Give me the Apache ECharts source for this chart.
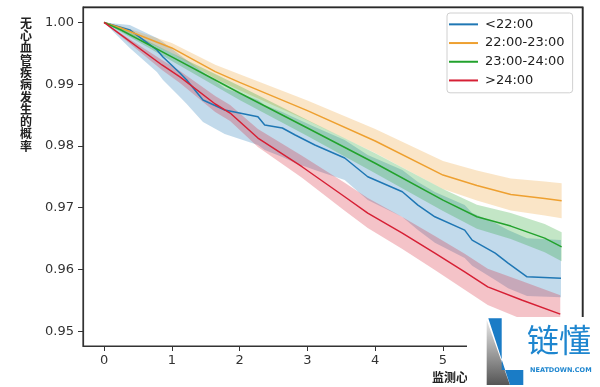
<!DOCTYPE html>
<html><head><meta charset="utf-8">
<script src="https://cdn.jsdelivr.net/npm/echarts@6/dist/echarts.min.js"></script>
<style>html,body{margin:0;padding:0;background:#fff}#c{width:600px;height:387px}</style>
</head><body><div id="c"></div>
<script>
const seriesNames = ['<22:00', '22:00-23:00', '23:00-24:00', '>24:00'];
const seriesColors = ['#1f77b4', '#eea030', '#22a22c', '#d62035'];
const xTicks = [0, 1, 2, 3, 4, 5, 6];
const yTicks = [0.95, 0.96, 0.97, 0.98, 0.99, 1.00];
const yAxisName = '无心血管疾病发生的概率';
const xAxisName = '监测心';

const blueX  = [0, 0.38, 0.78, 0.87, 1.12, 1.22, 1.46, 1.78, 2.27, 2.37, 2.63, 2.82, 3.11, 3.55, 3.89, 4.40, 4.63, 4.88, 5.32, 5.43, 5.77, 5.96, 6.24, 6.74];
const blueY  = [1.0, 0.99878, 0.99554, 0.99441, 0.99182, 0.99068, 0.98744, 0.98582, 0.98473, 0.98339, 0.98290, 0.98177, 0.98015, 0.97804, 0.97501, 0.97258, 0.97042, 0.96853, 0.96637, 0.96475, 0.96264, 0.96102, 0.95880, 0.95859];
const blueHi = [1.0, 0.99959, 0.99749, 0.99684, 0.99473, 0.99392, 0.99198, 0.98938, 0.98744, 0.98663, 0.98549, 0.98452, 0.98306, 0.98096, 0.97853, 0.97609, 0.97415, 0.97253, 0.97042, 0.96912, 0.96750, 0.96637, 0.96507, 0.96475];
const blueLo = [1.0, 0.99587, 0.99198, 0.99068, 0.98793, 0.98679, 0.98387, 0.98193, 0.98015, 0.97934, 0.97820, 0.97723, 0.97609, 0.97447, 0.97123, 0.96848, 0.96637, 0.96431, 0.96185, 0.96058, 0.95827, 0.95695, 0.95568, 0.95551];

const orangeX  = [0, 0.25, 1.0, 1.64, 2.0, 3.0, 4.0, 5.0, 5.5, 6.0, 6.5, 6.75];
const orangeY  = [1.0, 0.99911, 0.99587, 0.99203, 0.99030, 0.98572, 0.98080, 0.97528, 0.97358, 0.97212, 0.97147, 0.97112];
const orangeHi = [1.0, 0.99943, 0.99668, 0.99316, 0.99160, 0.98734, 0.98274, 0.97755, 0.97601, 0.97472, 0.97423, 0.97395];
const orangeLo = [1.0, 0.99878, 0.99506, 0.99089, 0.98901, 0.98410, 0.97885, 0.97301, 0.97115, 0.96953, 0.96872, 0.96828];

const greenX  = [0, 0.25, 1.0, 1.64, 2.0, 3.0, 4.0, 5.0, 5.5, 6.0, 6.5, 6.75];
const greenY  = [1.0, 0.99878, 0.99441, 0.99068, 0.98857, 0.98290, 0.97720, 0.97123, 0.96853, 0.96702, 0.96507, 0.96366];
const greenHi = [1.0, 0.99911, 0.99506, 0.99165, 0.98971, 0.98420, 0.97882, 0.97301, 0.97047, 0.96912, 0.96734, 0.96601];
const greenLo = [1.0, 0.99846, 0.99376, 0.98971, 0.98744, 0.98160, 0.97558, 0.96945, 0.96658, 0.96491, 0.96280, 0.96131];

const redX  = [0, 0.855, 1.12, 1.64, 1.86, 2.27, 2.92, 3.55, 3.89, 4.40, 4.88, 5.32, 5.66, 6.17, 6.73];
const redY  = [1.0, 0.99311, 0.99117, 0.98679, 0.98533, 0.98128, 0.97663, 0.97177, 0.96912, 0.96588, 0.96264, 0.95961, 0.95718, 0.95502, 0.95276];
const redHi = [1.0, 0.99392, 0.99214, 0.98809, 0.98663, 0.98274, 0.97841, 0.97404, 0.97156, 0.96848, 0.96540, 0.96253, 0.96010, 0.95810, 0.95583];
const redLo = [1.0, 0.99230, 0.99019, 0.98549, 0.98404, 0.97982, 0.97485, 0.96950, 0.96669, 0.96329, 0.95989, 0.95669, 0.95426, 0.95194, 0.94968];

const xMin = -0.31, xMax = 7.065, yMin = 0.9476, yMax = 1.0025;
const GRID = {left: 83, right: 17, top: 7, bottom: 41};
const W = 600, H = 387;

const groups = [
  {x: blueX, y: blueY, lo: blueLo, hi: blueHi},
  {x: orangeX, y: orangeY, lo: orangeLo, hi: orangeHi},
  {x: greenX, y: greenY, lo: greenLo, hi: greenHi},
  {x: redX, y: redY, lo: redLo, hi: redHi}
];

const series = [];
groups.forEach((g, k) => {
  series.push({
    type: 'custom', silent: true, z: 1 + k * 0.01, clip: true,
    data: g.x.map((x, i) => [x, g.lo[i], g.hi[i]]),
    encode: {x: 0, y: [1, 2]},
    renderItem: function (params, api) {
      if (params.dataIndex !== 0) return null;
      const n = g.x.length;
      const pts = [];
      for (let i = 0; i < n; i++) pts.push(api.coord([g.x[i], g.hi[i]]));
      for (let i = n - 1; i >= 0; i--) pts.push(api.coord([g.x[i], g.lo[i]]));
      return {
        type: 'polygon', shape: {points: pts},
        style: {fill: seriesColors[k], opacity: 0.27},
        clipPath: {type: 'rect', shape: {x: params.coordSys.x, y: params.coordSys.y, width: params.coordSys.width, height: params.coordSys.height}}
      };
    }
  });
});
groups.forEach((g, k) => {
  series.push({
    type: 'line', name: seriesNames[k], symbol: 'none', z: 3,
    data: g.x.map((x, i) => [x, g.y[i]]),
    lineStyle: {color: seriesColors[k], width: 1.5},
    itemStyle: {color: seriesColors[k]}
  });
});

const x0 = GRID.left, x1 = W - GRID.right, y0 = GRID.top, y1 = H - GRID.bottom;

const chart = echarts.init(document.getElementById('c'), null, {renderer: 'canvas'});
chart.setOption({
  animation: false,
  backgroundColor: '#fff',
  grid: Object.assign({show: true, borderColor: '#333', borderWidth: 1.2}, GRID),
  xAxis: {
    type: 'value', min: xMin, max: xMax,
    axisLine: {show: true, onZero: false, lineStyle: {color: '#333', width: 1.2}},
    axisTick: {show: true, length: 5, lineStyle: {color: '#333'}, customValues: xTicks},
    axisLabel: {customValues: xTicks, margin: 8, fontFamily: 'DejaVu Sans', fontSize: 13, color: '#333'},
    splitLine: {show: false}
  },
  yAxis: {
    type: 'value', min: yMin, max: yMax,
    axisLine: {show: true, onZero: false, lineStyle: {color: '#333', width: 1.2}},
    axisTick: {show: true, length: 5, lineStyle: {color: '#333'}, customValues: yTicks},
    axisLabel: {customValues: yTicks, margin: 9, fontFamily: 'DejaVu Sans', fontSize: 13, color: '#333',
      formatter: v => v.toFixed(2)},
    splitLine: {show: false}
  },
  legend: {
    data: seriesNames, orient: 'vertical', left: 447, top: 13,
    icon: 'rect', itemWidth: 29, itemHeight: 2, itemGap: 0,
    padding: [2, 8, 3, 2],
    borderColor: '#d0d0d0', borderWidth: 1, borderRadius: 3,
    backgroundColor: 'rgba(255,255,255,0.85)',
    textStyle: {fontFamily: 'DejaVu Sans', fontSize: 13, color: '#222', lineHeight: 18.7, padding: [0, 0, 0, 2]}
  },
  series: series,
  graphic: {
    elements: [
      {type: 'line', z: 60, silent: true, shape: {x1: x0, y1: y0 + 0.5, x2: x1, y2: y0 + 0.5},
        style: {stroke: '#2a2a2a', lineWidth: 1.5}},
      {type: 'line', z: 60, silent: true, shape: {x1: x1 - 0.5, y1: y0, x2: x1 - 0.5, y2: y1},
        style: {stroke: '#2a2a2a', lineWidth: 1.5}},
      {type: 'text', left: 20, top: 17, z: 50,
        style: {text: yAxisName.split('').join('\n'), fontFamily: 'Noto Sans CJK SC', fontSize: 12, lineHeight: 12.3, fill: '#222', align: 'center', fontWeight: 'bold'}},
      {type: 'text', left: 432, top: 371, z: 50,
        style: {text: xAxisName, fontFamily: 'Noto Sans CJK SC', fontSize: 12, fill: '#222', fontWeight: 'bold'}},
      {type: 'rect', z: 100, shape: {x: 467, y: 317, width: 133, height: 70}, style: {fill: '#fff'}},
      {type: 'polygon', z: 101, shape: {points: [[486.7, 320], [486.7, 385], [510, 385]]},
        style: {fill: {type: 'linear', x: 0, y: 0, x2: 0, y2: 1, colorStops: [{offset: 0, color: '#e8e8e8'}, {offset: 1, color: '#555'}]}}},
      {type: 'polygon', z: 102, shape: {points: [[488.3, 318.3], [501.7, 318.3], [501.7, 370], [523.3, 370], [523.3, 385], [510, 385]]},
        style: {fill: '#1a7cc6'}},
      {type: 'text', z: 103, left: 527, top: 324,
        style: {text: '链懂', fontFamily: 'Noto Sans CJK SC', fontSize: 32, fill: '#1e86cf'}},
      {type: 'text', z: 103, left: 530, top: 367,
        style: {text: 'NEATDOWN.COM', fontFamily: 'DejaVu Sans', fontSize: 6.5, fontWeight: 'bold', fill: '#1e86cf'}}
    ]
  }
});
</script></body></html>
